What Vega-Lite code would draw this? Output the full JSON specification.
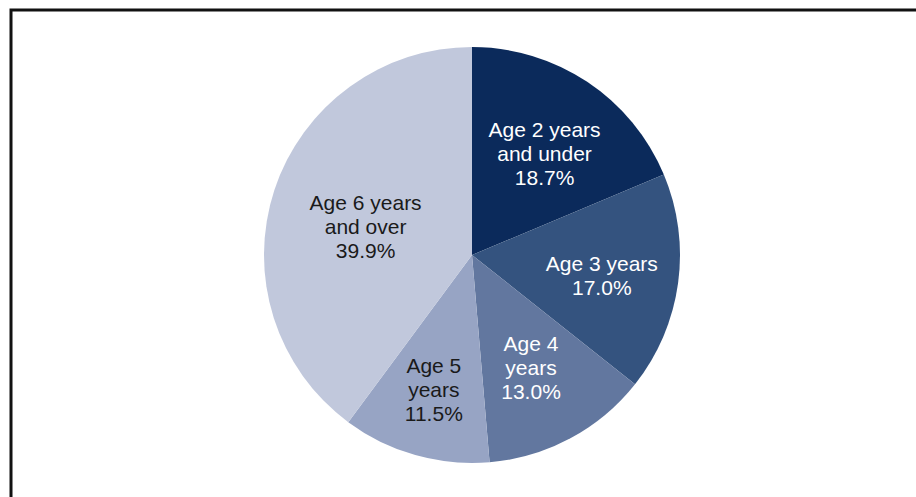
{
  "$schema": "https://vega.github.io/schema/vega-lite/v6.json",
  "width": 922,
  "height": 490,
  "autosize": {"type": "none"},
  "padding": {"left": 11, "top": 10, "right": 0, "bottom": 0},
  "background": "white",
  "view": {"stroke": "#111111", "strokeWidth": 3},
  "config": {"view": {"stroke": "#111111", "strokeWidth": 3}},
  "data": {
    "values": [
      {"category": "Age 2 years and under", "share": 18.7, "label": ["Age 2 years", "and under", "18.7%"]},
      {"category": "Age 3 years", "share": 17.0, "label": ["Age 3 years", "17.0%"]},
      {"category": "Age 4 years", "share": 13.0, "label": ["Age 4", "years", "13.0%"]},
      {"category": "Age 5 years", "share": 11.5, "label": ["Age 5", "years", "11.5%"]},
      {"category": "Age 6 years and over", "share": 39.9, "label": ["Age 6 years", "and over", "39.9%"]}
    ]
  },
  "encoding": {
    "theta": {"field": "share", "type": "quantitative", "stack": true}
  },
  "layer": [
    {
      "mark": {"type": "arc", "outerRadius": 208},
      "encoding": {
        "color": {
          "field": "category",
          "type": "nominal",
          "scale": {
            "domain": ["Age 2 years and under", "Age 3 years", "Age 4 years", "Age 5 years", "Age 6 years and over"],
            "range": ["#0b2a5b", "#34537f", "#62779f", "#97a4c4", "#c1c8dc"]
          },
          "legend": null
        }
      }
    },
    {
      "mark": {"type": "text", "radius": 122, "dx": 5, "dy": -22, "font": "Liberation Sans", "fontSize": 21, "lineHeight": 24, "align": "center", "baseline": "middle", "fill": "#ffffff"},
      "encoding": {
        "detail": {"field": "category", "type": "nominal"},
        "text": {"condition": {"test": "datum.category === 'Age 2 years and under'", "field": "label"}, "value": ""}
      }
    },
    {
      "mark": {"type": "text", "radius": 131, "dy": -8, "font": "Liberation Sans", "fontSize": 21, "lineHeight": 24, "align": "center", "baseline": "middle", "fill": "#ffffff"},
      "encoding": {
        "detail": {"field": "category", "type": "nominal"},
        "text": {"condition": {"test": "datum.category === 'Age 3 years'", "field": "label"}, "value": ""}
      }
    },
    {
      "mark": {"type": "text", "radius": 129, "dx": -2, "dy": -24, "font": "Liberation Sans", "fontSize": 21, "lineHeight": 24, "align": "center", "baseline": "middle", "fill": "#ffffff"},
      "encoding": {
        "detail": {"field": "category", "type": "nominal"},
        "text": {"condition": {"test": "datum.category === 'Age 4 years'", "field": "label"}, "value": ""}
      }
    },
    {
      "mark": {"type": "text", "radius": 140, "dy": -23, "font": "Liberation Sans", "fontSize": 21, "lineHeight": 24, "align": "center", "baseline": "middle", "fill": "#1a1a1a"},
      "encoding": {
        "detail": {"field": "category", "type": "nominal"},
        "text": {"condition": {"test": "datum.category === 'Age 5 years'", "field": "label"}, "value": ""}
      }
    },
    {
      "mark": {"type": "text", "radius": 111, "dx": -1, "dy": -16, "font": "Liberation Sans", "fontSize": 21, "lineHeight": 24, "align": "center", "baseline": "middle", "fill": "#1a1a1a"},
      "encoding": {
        "detail": {"field": "category", "type": "nominal"},
        "text": {"condition": {"test": "datum.category === 'Age 6 years and over'", "field": "label"}, "value": ""}
      }
    }
  ]
}
